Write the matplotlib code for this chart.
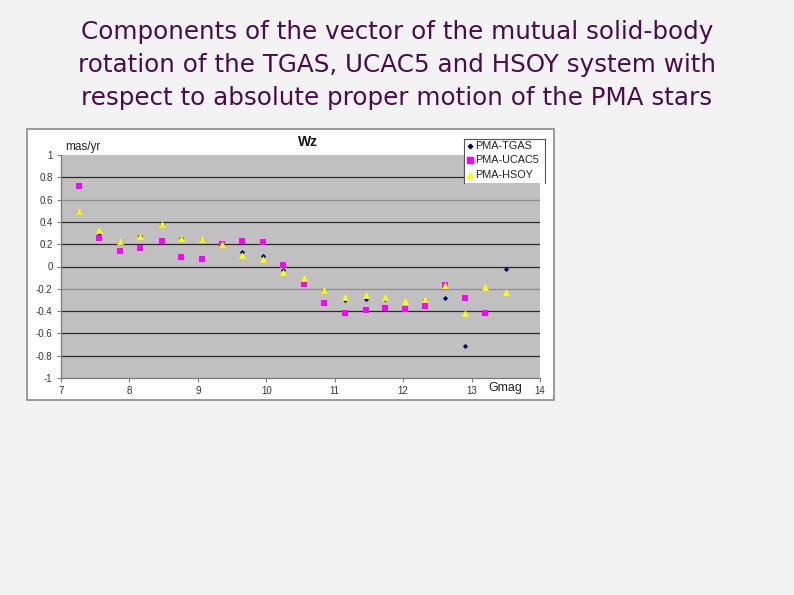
import numpy as np
import matplotlib
matplotlib.use('Agg')
import matplotlib.pyplot as plt
from matplotlib.patches import Rectangle
from matplotlib.lines import Line2D

nan = np.nan

# values
gmag = [7.27, 7.56, 7.86, 8.16, 8.47, 8.76, 9.06, 9.36, 9.65, 9.95, 10.25,
        10.55, 10.85, 11.15, 11.45, 11.74, 12.03, 12.32, 12.61, 12.90, 13.19, 13.51]
tgas = [0.49, 0.30, 0.22, 0.27, 0.37, 0.26, 0.24, 0.20, 0.13, 0.09, -0.03,
        -0.13, -0.22, -0.30, -0.29, -0.29, -0.37, -0.30, -0.28, -0.71, nan, -0.02]
ucac5 = [0.725, 0.26, 0.14, 0.17, 0.225, 0.085, 0.07, 0.20, 0.23, 0.22, 0.01,
         -0.16, -0.33, -0.42, -0.39, -0.37, -0.38, -0.35, -0.17, -0.28, -0.42, nan]
hsoy = [0.50, 0.33, 0.23, 0.275, 0.38, 0.26, 0.25, 0.20, 0.10, 0.07, -0.05,
        -0.10, -0.21, -0.27, -0.26, -0.27, -0.31, -0.29, -0.165, -0.42, -0.18, -0.23]

series_names = ['PMA-TGAS', 'PMA-UCAC5', 'PMA-HSOY']
x_ticks = [7, 8, 9, 10, 11, 12, 13, 14]
y_ticks = [1, 0.8, 0.6, 0.4, 0.2, 0, -0.2, -0.4, -0.6, -0.8, -1]

W, H = 794, 595
fig = plt.figure(figsize=(W / 100, H / 100), dpi=100)
fig.patch.set_facecolor('#f3f3f3')
chart_font = 'Liberation Sans'


def fx(px):
    return px / W


def fy(py):
    return 1 - py / H


# slide title
title = ("Components of the vector of the mutual solid-body\n"
         "rotation of the TGAS, UCAC5 and HSOY system with\n"
         "respect to absolute proper motion of the PMA stars")
fig.text(0.5, fy(65), title, ha='center', va='center', fontsize=17.7,
         color='#4a0c4e', family='DejaVu Sans', linespacing=1.5)

# chart frame
fig.add_artist(Rectangle((fx(27), fy(400)), fx(527), 271 / H,
                         transform=fig.transFigure, facecolor='white',
                         edgecolor='#8a8a8a', linewidth=1.2, zorder=0.5))

ax = fig.add_axes([fx(61), fy(378), fx(479), 223 / H])
ax.set_zorder(2)
ax.set_facecolor('#c0c0c0')
ax.set_xlim(7, 14)
ax.set_ylim(-1, 1)

for v in y_ticks:
    if v in (1, -1):
        continue
    col = '#8c8c8c' if v in (0.6, -0.2) else '#2a2a2a'
    ax.axhline(v, color=col, linewidth=0.9, zorder=1)

ax.scatter(gmag, tgas, marker='D', s=7, color='#000066', zorder=3, linewidths=0)
ax.scatter(gmag, ucac5, marker='s', s=22, color='#ff00ff', zorder=4, linewidths=0)
ax.scatter(gmag, hsoy, marker='^', s=24, color='#ffff00', zorder=5, linewidths=0)

for s in ['top', 'right']:
    ax.spines[s].set_visible(False)
for s in ['left', 'bottom']:
    ax.spines[s].set_color('#7a7a7a')
    ax.spines[s].set_linewidth(0.9)

ax.set_xticks(x_ticks)
ax.set_xticklabels([str(t) for t in x_ticks], family=chart_font)
ax.set_yticks(y_ticks)
ax.set_yticklabels(['%g' % t for t in y_ticks], family=chart_font)
ax.tick_params(axis='both', labelsize=7, colors='#7a7a7a', labelcolor='#333333',
               length=3, width=0.8, direction='out', pad=3)

ax.text(7.06, 1.02, 'mas/yr', fontsize=8.5, color='#222222', va='bottom', ha='left',
        family=chart_font)
ax.text(0.515, 1.025, 'Wz', transform=ax.transAxes, fontsize=10, fontweight='bold',
        color='#111111', va='bottom', ha='center', family=chart_font)
fig.text(fx(505), fy(388), 'Gmag', fontsize=9, color='#222222', ha='center', va='center',
         zorder=3, family=chart_font)

# legend box (bottom edge is cut off in the original)
lx0, lx1, ly0, ly1 = fx(464), fx(545), fy(139), fy(183)
fig.add_artist(Rectangle((lx0, ly1), lx1 - lx0, ly0 - ly1, transform=fig.transFigure,
                         facecolor='white', edgecolor='none', zorder=5))
for xs, ys in [([lx0, lx1], [ly0, ly0]), ([lx0, lx0], [ly0, ly1]), ([lx1, lx1], [ly0, ly1])]:
    fig.add_artist(Line2D(xs, ys, color='#555555', linewidth=0.8, zorder=6))

leg_style = [('D', 2.3, '#000066'), ('s', 4, '#ff00ff'), ('^', 4.5, '#ffff00')]
for i, (name, (mk, ms, col)) in enumerate(zip(series_names, leg_style)):
    yy = fy(146 + i * 14.5)
    fig.add_artist(Line2D([fx(470)], [yy], marker=mk, markersize=ms, color=col,
                          linestyle='none', zorder=7))
    fig.text(fx(475.5), yy, name, fontsize=7.8, color='#222222', va='center', ha='left',
             zorder=7, family=chart_font)

plt.savefig('out.png', dpi=100, facecolor=fig.get_facecolor())
